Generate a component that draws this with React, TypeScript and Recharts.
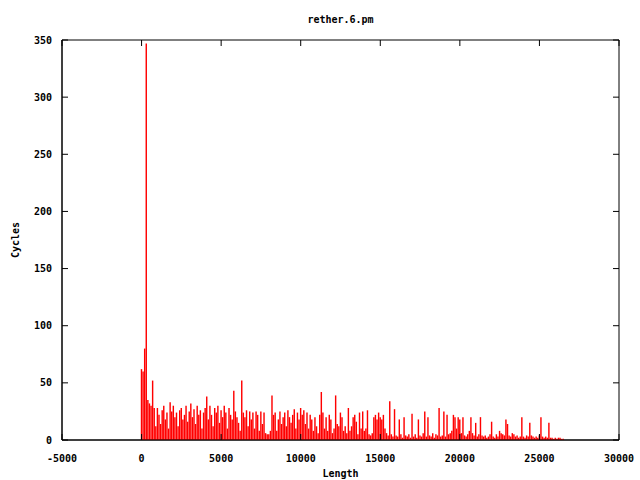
import React from 'react';
import { BarChart, Bar, XAxis, YAxis, ReferenceArea } from 'recharts';

// histogram bins are 100 long, starting at length 0
const BIN = 100;

const cycles0to5k = [
  62, 60, 80, 347, 35, 32, 30, 52, 28, 12,
  28, 22, 14, 26, 30, 18, 24, 10, 33, 25,
  30, 20, 24, 12, 26, 28, 18, 22, 30, 16,
  25, 32, 20, 27, 14, 30, 22, 26, 10, 24,
  28, 38, 18, 30, 22, 12, 28, 24, 30, 15,
];
const cycles5to10k = [
  26, 20, 30, 24, 10, 28, 22, 18, 43, 25,
  20, 15, 8, 52, 24, 20, 26, 12, 25, 18,
  24, 10, 25, 22, 8, 25, 14, 24, 6, 5,
  5, 8, 39, 22, 24, 8, 18, 25, 14, 20,
  24, 12, 26, 20, 15, 22, 27, 10, 24, 18,
];
const cycles10to15k = [
  28, 22, 26, 14, 24, 10, 22, 18, 8, 20,
  12, 6, 22, 42, 24, 10, 20, 8, 22, 18,
  6, 10, 39, 14, 12, 24, 20, 8, 12, 6,
  28, 8, 12, 20, 22, 16, 5, 24, 10, 25,
  8, 10, 26, 5, 4, 6, 20, 22, 18, 24,
];
const cycles15to20k = [
  20, 18, 22, 10, 6, 4, 34, 5, 3, 27,
  4, 3, 18, 5, 2, 20, 4, 3, 5, 2,
  23, 3, 5, 2, 18, 4, 3, 6, 25, 3,
  20, 4, 3, 6, 2, 5, 4, 28, 3, 4,
  25, 3, 22, 5, 6, 8, 22, 20, 10, 20,
];
const cycles20to25k = [
  18, 6, 20, 4, 3, 5, 8, 20, 6, 4,
  15, 3, 5, 20, 4, 3, 4, 2, 3, 5,
  16, 3, 2, 5, 3, 8, 6, 5, 4, 18,
  14, 4, 3, 6, 5, 3, 4, 2, 3, 20,
  3, 2, 4, 3, 15, 4, 3, 2, 3, 2,
];
const cycles25kUp = [
  4, 20, 3, 2, 3, 2, 15, 2, 2, 1,
  2, 1, 2, 2, 1, 1,
];

const xTicks = [-5000, 0, 5000, 10000, 15000, 20000, 25000, 30000];
const yTicks = [0, 50, 100, 150, 200, 250, 300, 350];

const cycles = [
  ...cycles0to5k,
  ...cycles5to10k,
  ...cycles10to15k,
  ...cycles15to20k,
  ...cycles20to25k,
  ...cycles25kUp,
];
const data = cycles.map((c, i) => ({ length: i * BIN, cycles: c }));

const W = 640;
const H = 480;
const margin = { top: 40, right: 21, bottom: 0, left: 0 };
const X_MARGIN = 15;
const Y_MARGIN = 10;
const TICK = 6;

const font = { fontFamily: '"DejaVu Sans Mono", monospace', fontWeight: 'bold' as const, fontSize: 10 };

// gnuplot style: tick marks point inward, mirrored on the opposite side
const XTick = (props: any) => {
  const { x, y, payload } = props;
  const axisY = y - X_MARGIN;
  return (
    <g>
      <line x1={x} x2={x} y1={axisY} y2={axisY - TICK} stroke="#000" />
      <line x1={x} x2={x} y1={margin.top} y2={margin.top + TICK} stroke="#000" />
      <text x={x} y={y} dy="0.71em" textAnchor="middle" style={font} fill="#000">
        {payload.value}
      </text>
    </g>
  );
};

const YTick = (props: any) => {
  const { x, y, payload } = props;
  const axisX = x + Y_MARGIN;
  const rightX = W - margin.right;
  return (
    <g>
      <line x1={axisX} x2={axisX + TICK} y1={y} y2={y} stroke="#000" />
      <line x1={rightX} x2={rightX - TICK} y1={y} y2={y} stroke="#000" />
      <text x={x} y={y} dy="0.355em" textAnchor="end" style={font} fill="#000">
        {payload.value}
      </text>
    </g>
  );
};

const App = () => {
  return (
    <div style={{ position: 'absolute', left: 0, top: 0, width: W, height: H, background: '#fff' }}>
      <div
        style={{
          position: 'absolute',
          top: 14,
          left: 0,
          width: 681,
          textAlign: 'center',
          ...font,
          color: '#000',
        }}
      >
        rether.6.pm
      </div>
      <BarChart width={W} height={H} data={data} margin={margin} barCategoryGap={0}>
        <XAxis
          dataKey="length"
          type="number"
          domain={[-5000, 30000]}
          ticks={xTicks}
          height={40}
          stroke="#000"
          tickLine={false}
          tickSize={0}
          tickMargin={X_MARGIN}
          tick={<XTick />}
          label={{ value: 'Length', position: 'insideBottom', offset: 3, style: { ...font, fill: '#000' } }}
        />
        <YAxis
          type="number"
          domain={[0, 350]}
          ticks={yTicks}
          width={62}
          stroke="#000"
          tickLine={false}
          tickSize={0}
          tickMargin={Y_MARGIN}
          tick={<YTick />}
          label={{ value: 'Cycles', angle: -90, position: 'center', dx: -16, style: { ...font, fill: '#000' } }}
        />
        <ReferenceArea x1={-5000} x2={30000} y1={0} y2={350} stroke="#000" fill="none" fillOpacity={0} />
        <Bar dataKey="cycles" fill="#ff0000" barSize={2} isAnimationActive={false} />
      </BarChart>
    </div>
  );
};

export default App;
